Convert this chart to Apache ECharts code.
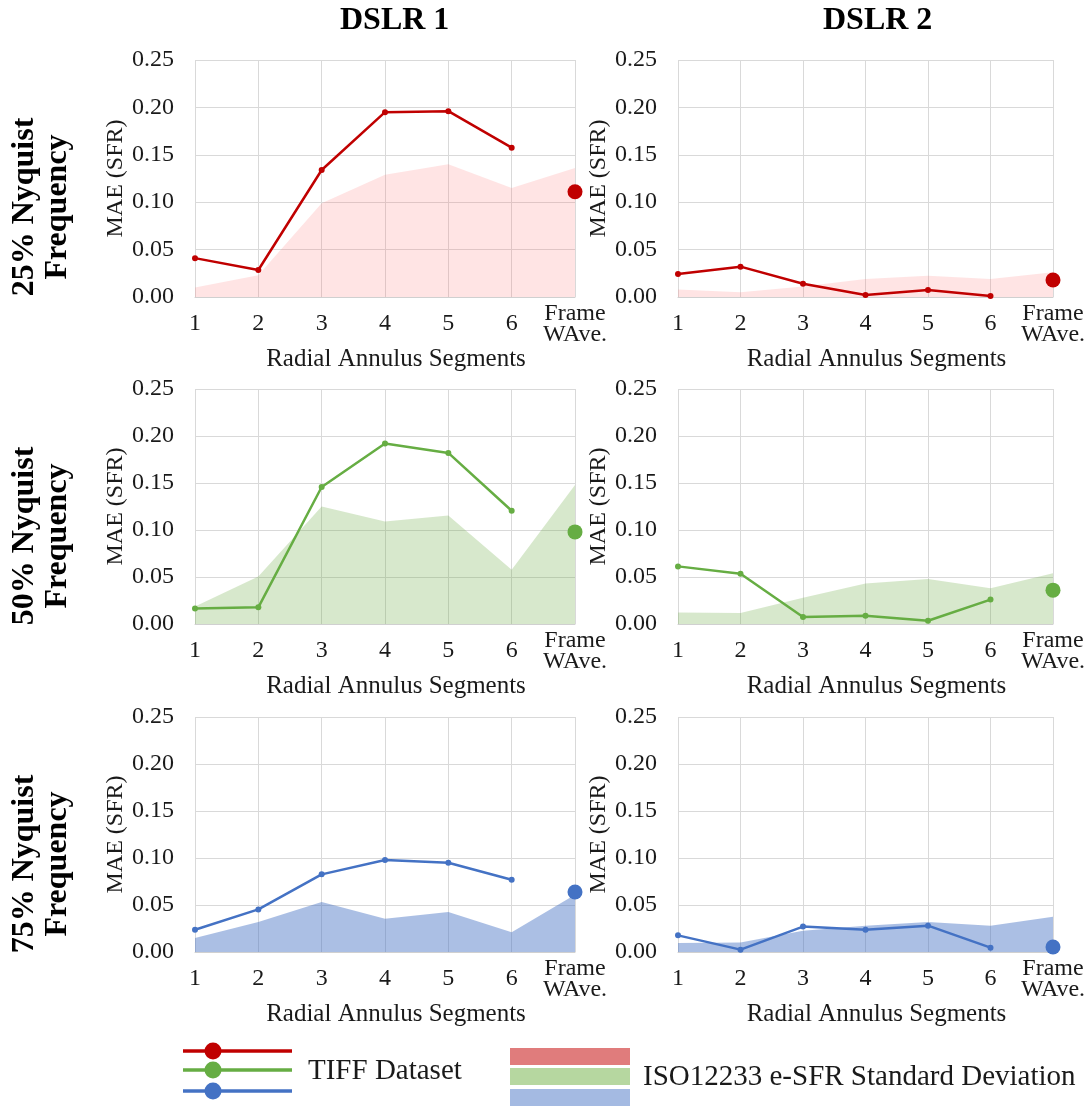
<!DOCTYPE html>
<html>
<head>
<meta charset="utf-8">
<script src="https://cdn.jsdelivr.net/npm/echarts@6/dist/echarts.min.js"></script>
<style>
  html, body { margin: 0; padding: 0; background: #fff; }
  #chart { width: 1090px; height: 1109px; }
</style>
</head>
<body>
<div id="chart"></div>
<script>
const segments = ['1', '2', '3', '4', '5', '6', 'Frame\nWAve.'];
const columnTitles = ['DSLR 1', 'DSLR 2'];
const rowTitles = ['25% Nyquist\nFrequency', '50% Nyquist\nFrequency', '75% Nyquist\nFrequency'];

// TIFF dataset MAE, segments 1-6
const tiff25D1 = [0.041, 0.0285, 0.134, 0.195, 0.196, 0.1575];
const tiff25D2 = [0.0243, 0.032, 0.014, 0.002, 0.0074, 0.001];
const tiff50D1 = [0.0166, 0.0177, 0.1457, 0.192, 0.182, 0.1205];
const tiff50D2 = [0.0613, 0.0535, 0.0074, 0.0088, 0.0035, 0.026];
const tiff75D1 = [0.0237, 0.0453, 0.0826, 0.0979, 0.095, 0.0769];
const tiff75D2 = [0.0177, 0.0025, 0.027, 0.0237, 0.028, 0.0046];

// frame weighted average
const frame25D1 = 0.111;
const frame25D2 = 0.018;
const frame50D1 = 0.098;
const frame50D2 = 0.036;
const frame75D1 = 0.0638;
const frame75D2 = 0.0053;

// ISO12233 e-SFR standard deviation, segments 1-6 + frame
const sd25D1 = [0.010, 0.023, 0.099, 0.129, 0.140, 0.115, 0.136];
const sd25D2 = [0.008, 0.005, 0.011, 0.019, 0.0225, 0.019, 0.026];
const sd50D1 = [0.0187, 0.0506, 0.125, 0.109, 0.1155, 0.0578, 0.148];
const sd50D2 = [0.0123, 0.0117, 0.028, 0.043, 0.048, 0.038, 0.054];
const sd75D1 = [0.0149, 0.0319, 0.0532, 0.0354, 0.0426, 0.0209, 0.061];
const sd75D2 = [0.0096, 0.010, 0.0227, 0.028, 0.032, 0.028, 0.0376];

const FONT = "'Liberation Serif', 'Times New Roman', serif";
const lineColors = ['#c00000', '#66ad43', '#4472c4'];
const areaColors = ['rgba(255,120,120,0.2)', 'rgba(112,173,71,0.28)', 'rgba(68,114,196,0.45)'];
const legendRects = ['#e07c7c', '#b6d7a0', '#a4bae2'];

const panels = [
  { row: 0, col: 0, tiff: tiff25D1, frame: frame25D1, sd: sd25D1 },
  { row: 0, col: 1, tiff: tiff25D2, frame: frame25D2, sd: sd25D2 },
  { row: 1, col: 0, tiff: tiff50D1, frame: frame50D1, sd: sd50D1 },
  { row: 1, col: 1, tiff: tiff50D2, frame: frame50D2, sd: sd50D2 },
  { row: 2, col: 0, tiff: tiff75D1, frame: frame75D1, sd: sd75D1 },
  { row: 2, col: 1, tiff: tiff75D2, frame: frame75D2, sd: sd75D2 }
];

const colLeft = [195, 678];
const colWidth = [380, 375];
const rowTop = [60, 389, 717];
const rowHeight = [237, 235, 235];

const grids = [], xAxes = [], yAxes = [], series = [];

panels.forEach((p, i) => {
  grids.push({
    left: colLeft[p.col], top: rowTop[p.row],
    width: colWidth[p.col], height: rowHeight[p.row]
  });
  xAxes.push({
    type: 'category', gridIndex: i, data: segments, boundaryGap: false,
    name: 'Radial Annulus Segments', nameLocation: 'middle', nameGap: 46,
    nameTextStyle: { fontFamily: FONT, fontSize: 25, color: '#1a1a1a', padding: [0, 0, 0, 22] },
    axisLine: { lineStyle: { color: '#d0d0d0' } },
    axisTick: { show: false },
    axisLabel: { fontFamily: FONT, fontSize: 24, color: '#1a1a1a', margin: 27, verticalAlign: 'middle', lineHeight: 21, interval: 0 },
    splitLine: { show: true, lineStyle: { color: '#d9d9d9' } }
  });
  yAxes.push({
    type: 'value', gridIndex: i, min: 0, max: 0.25, interval: 0.05,
    name: 'MAE (SFR)', nameLocation: 'middle', nameRotate: 90, nameGap: 66,
    nameTextStyle: { fontFamily: FONT, fontSize: 24, color: '#1a1a1a' },
    axisLine: { show: false },
    axisTick: { show: false },
    axisLabel: { fontFamily: FONT, fontSize: 24, color: '#1a1a1a', margin: 21, formatter: v => v.toFixed(2) },
    splitLine: { lineStyle: { color: '#d9d9d9' } }
  });
  series.push({
    type: 'line', xAxisIndex: i, yAxisIndex: i, data: p.sd,
    symbol: 'none', lineStyle: { width: 0 },
    areaStyle: { color: areaColors[p.row], opacity: 1 }, z: 1
  });
  series.push({
    type: 'line', xAxisIndex: i, yAxisIndex: i, data: p.tiff,
    symbol: 'circle', symbolSize: 6,
    lineStyle: { color: lineColors[p.row], width: 2.5 },
    itemStyle: { color: lineColors[p.row] }, z: 3
  });
  series.push({
    type: 'scatter', xAxisIndex: i, yAxisIndex: i, data: [[6, p.frame]],
    symbolSize: 15, itemStyle: { color: lineColors[p.row], opacity: 1 }, z: 4
  });
});

const graphics = [];
columnTitles.forEach((t, c) => {
  graphics.push({
    type: 'text', left: c === 0 ? 340 : 823, top: 5,
    style: { text: t, font: 'bold 32px ' + FONT, fill: '#000' }
  });
});
const rowCenters = [207, 536, 864];
rowTitles.forEach((t, r) => {
  graphics.push({
    type: 'text', x: 41, y: rowCenters[r], rotation: Math.PI / 2,
    style: { text: t, font: 'bold 32px ' + FONT, fill: '#000', align: 'center', verticalAlign: 'middle', lineHeight: 33 }
  });
});
// legend: TIFF dataset markers
const legendLineY = [1051, 1070, 1091];
legendLineY.forEach((y, k) => {
  graphics.push({ type: 'line', shape: { x1: 183, y1: y, x2: 292, y2: y }, style: { stroke: lineColors[k], lineWidth: 3.5 } });
  graphics.push({ type: 'circle', shape: { cx: 213, cy: y, r: 8.5 }, style: { fill: lineColors[k] } });
});
graphics.push({ type: 'text', x: 308, y: 1071, style: { text: 'TIFF Dataset', font: '29px ' + FONT, fill: '#1a1a1a', verticalAlign: 'middle' } });
const legendRectY = [1048, 1068, 1089];
legendRectY.forEach((y, k) => {
  graphics.push({ type: 'rect', shape: { x: 510, y: y, width: 120, height: 17 }, style: { fill: legendRects[k] } });
});
graphics.push({ type: 'text', x: 643, y: 1077, style: { text: 'ISO12233 e-SFR Standard Deviation', font: '29px ' + FONT, fill: '#1a1a1a', verticalAlign: 'middle' } });

const chart = echarts.init(document.getElementById('chart'));
chart.setOption({
  animation: false,
  backgroundColor: '#fff',
  grid: grids,
  xAxis: xAxes,
  yAxis: yAxes,
  series: series,
  graphic: graphics
});
</script>
</body>
</html>
